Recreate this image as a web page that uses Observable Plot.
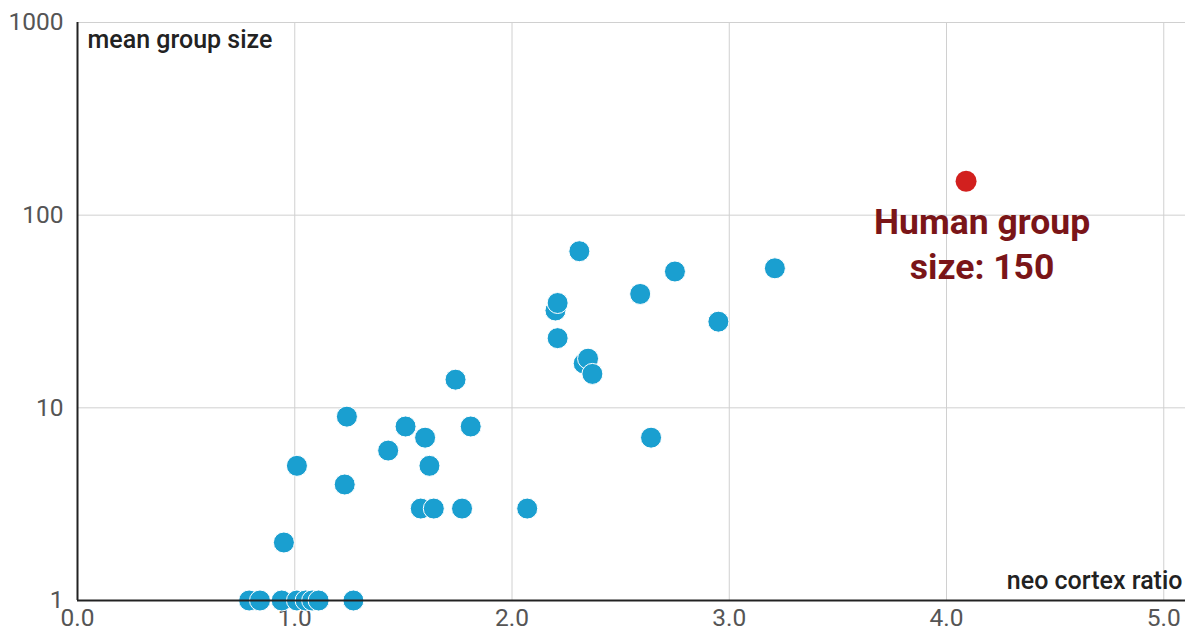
<!DOCTYPE html>
<html>
<head>
<meta charset="utf-8">
<script src="https://cdn.jsdelivr.net/npm/d3@7"></script>
<script src="https://cdn.jsdelivr.net/npm/@observablehq/plot@0.6"></script>
<style>
  html, body { margin: 0; padding: 0; background: #fff; }
  svg { display: block; }
</style>
</head>
<body>
<div id="chart"></div>
<script>
// Primate data: neocortex ratio vs mean group size
const neocortexRatio = [0.79, 0.84, 0.94, 1.01, 1.05, 1.08, 1.11, 1.27,
  0.95, 1.01, 1.62, 1.23, 1.24, 1.43, 1.51, 1.81, 1.60, 2.64,
  1.58, 1.64, 1.77, 2.07, 1.74, 2.20, 2.21, 2.21, 2.31, 2.33, 2.35, 2.37,
  2.59, 2.75, 2.95, 3.21];
const meanGroupSize = [1, 1, 1, 1, 1, 1, 1, 1,
  2, 5, 5, 4, 9, 6, 8, 8, 7, 7,
  3, 3, 3, 3, 14, 32, 35, 23, 65, 17, 18, 15,
  39, 51, 28, 53];
const humanRatio = [4.09];
const humanSize = [150];
const humanLabel = ["Human group\nsize: 150"];
const xTicks = [0, 1, 2, 3, 4, 5];
const yTicks = [1, 10, 100, 1000];
const xAxisTitle = "neo cortex ratio";
const yAxisTitle = "mean group size";

const primates = neocortexRatio.map((x, i) => ({x, y: meanGroupSize[i]}));
const human = humanRatio.map((x, i) => ({x, y: humanSize[i], label: humanLabel[i]}));

const chart = Plot.plot({
  width: 1191,
  height: 634,
  marginLeft: 77,
  marginRight: 6,
  marginTop: 22,
  marginBottom: 34,
  style: {fontFamily: "Roboto, sans-serif", background: "#fff"},
  x: {domain: [0, 5.1], label: null},
  y: {type: "log", domain: [1, 1000], label: null},
  marks: [
    Plot.gridX(xTicks.filter(d => d > 0), {stroke: "#d0d0d0", strokeOpacity: 1, strokeWidth: 1}),
    Plot.gridY(yTicks.filter(d => d > 1), {stroke: "#d0d0d0", strokeOpacity: 1, strokeWidth: 1}),
    Plot.axisX(xTicks, {tickSize: 0, tickPadding: 8, tickFormat: d3.format(".1f"), fontSize: 24.5, fill: "#555", label: null}),
    Plot.axisY(yTicks, {tickSize: 0, tickPadding: 14, tickFormat: d => String(d), fontSize: 24.5, fill: "#555", label: null}),
    Plot.dot(primates, {x: "x", y: "y", r: 10.5, fill: "#1a9fd0", stroke: "#fff", strokeWidth: 1}),
    Plot.dot(human, {x: "x", y: "y", r: 10.5, fill: "#d2201e"}),
    Plot.text(human, {x: "x", y: "y", text: "label", dx: 16, dy: 20, lineAnchor: "top", lineHeight: 1.28,
      fontSize: 35.5, fontWeight: 700, fill: "#7a1518", textAnchor: "middle"}),
    Plot.ruleY([1], {stroke: "#222", strokeWidth: 2}),
    Plot.ruleX([0], {stroke: "#222", strokeWidth: 2}),
    Plot.text([yAxisTitle], {frameAnchor: "top-left", dx: 10, dy: 8, lineAnchor: "top", fontSize: 25, fontWeight: 500, fill: "#222"}),
    Plot.text([xAxisTitle], {frameAnchor: "bottom-right", dx: -3, dy: -12, lineAnchor: "bottom", fontSize: 25, fontWeight: 500, fill: "#222"})
  ]
});
document.getElementById("chart").appendChild(chart);
</script>
</body>
</html>
